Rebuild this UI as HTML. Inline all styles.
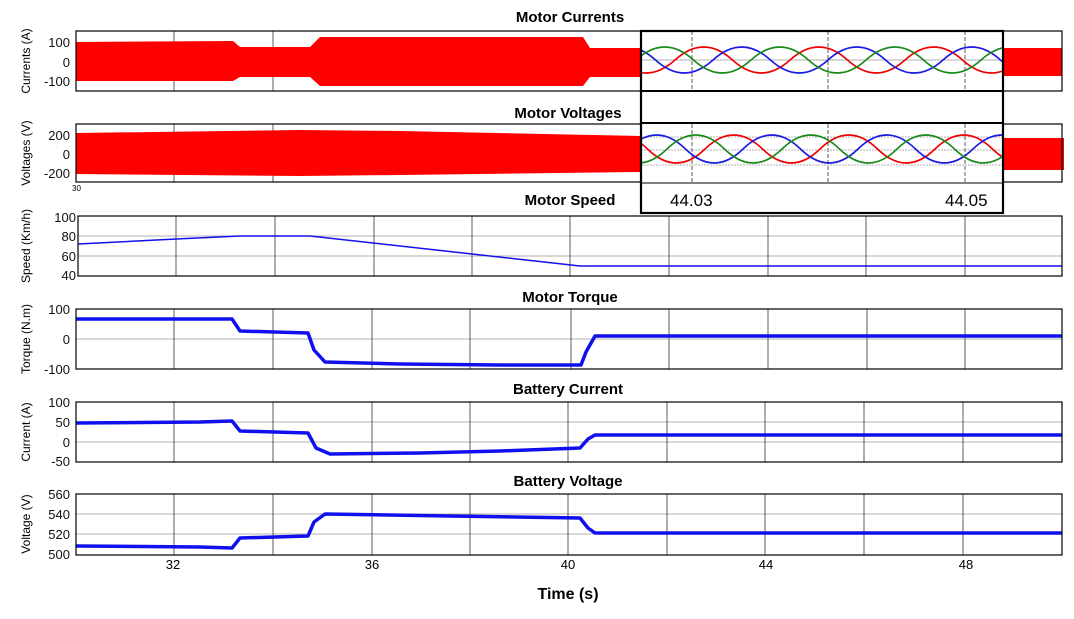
<!DOCTYPE html>
<html><head><meta charset="utf-8"><style>
body{margin:0;background:#fff;}
svg{display:block;font-family:"Liberation Sans",Arial,sans-serif;}
.t{font-weight:bold;font-size:15px;text-anchor:middle;}
.yl{font-size:12px;text-anchor:middle;}
.tk{font-size:13px;text-anchor:end;fill:#111;}
.xt{font-size:13px;text-anchor:middle;}
.vg{stroke:#333;stroke-width:0.8;}
.hg{stroke:#999;stroke-width:0.8;}
.box{fill:none;stroke:#000;stroke-width:1.2;}
.bl{fill:none;stroke:#1010ee;stroke-width:3.5;stroke-linejoin:round;}
</style></head><body>
<svg width="1074" height="619" viewBox="0 0 1074 619">
<defs>
<clipPath id="c1"><rect x="641" y="32" width="362" height="58"/></clipPath>
<clipPath id="c2"><rect x="641" y="124" width="362" height="58"/></clipPath>
</defs>

<!-- titles -->
<text class="t" x="570" y="22">Motor Currents</text>
<text class="t" x="568" y="118">Motor Voltages</text>
<text class="t" x="570" y="205">Motor Speed</text>
<text class="t" x="570" y="302">Motor Torque</text>
<text class="t" x="568" y="394">Battery Current</text>
<text class="t" x="568" y="486">Battery Voltage</text>

<!-- Panel 1 currents -->
<g>
<line class="vg" x1="174" y1="31" x2="174" y2="91"/><line class="vg" x1="273" y1="31" x2="273" y2="91"/>
<polygon fill="#ff0000" points="76,42 233,41 240,47 310,47 320,37 583,37 590,48 641,48 641,77 590,77 583,86 320,86 310,77 240,77 233,81 76,81"/>
<polygon fill="#ff0000" points="1003,48 1062,48 1062,76 1003,76"/>
<rect class="box" x="76" y="31" width="986" height="60"/>
<text class="yl" transform="translate(30,61) rotate(-90)">Currents (A)</text>
<text class="tk" x="70" y="47">100</text><text class="tk" x="70" y="67">0</text><text class="tk" x="70" y="86">-100</text>
</g>

<!-- Panel 2 voltages -->
<g>
<line class="vg" x1="174" y1="124" x2="174" y2="182"/><line class="vg" x1="273" y1="124" x2="273" y2="182"/>
<polygon fill="#ff0000" points="76,133 300,130 400,131 641,136 641,172 400,175 300,176 76,174"/>
<polygon fill="#ff0000" points="1003,138 1064,138 1064,170 1003,170"/>
<rect class="box" x="76" y="124" width="986" height="58"/>
<text class="yl" transform="translate(30,153) rotate(-90)">Voltages (V)</text>
<text class="tk" x="70" y="140">200</text><text class="tk" x="70" y="159">0</text><text class="tk" x="70" y="178">-200</text>
<text x="72" y="191" style="font-size:8px">30</text>
</g>

<!-- Inset -->
<rect x="641" y="31" width="362" height="182" fill="#fff"/>
<g class="vg" stroke-dasharray="4,2">
<line x1="692" y1="31" x2="692" y2="91"/><line x1="828" y1="31" x2="828" y2="91"/><line x1="965" y1="31" x2="965" y2="91"/>
<line x1="692" y1="124" x2="692" y2="183"/><line x1="828" y1="124" x2="828" y2="183"/><line x1="965" y1="124" x2="965" y2="183"/>
</g>
<line class="hg" x1="641" y1="60" x2="1003" y2="60"/>
<line class="hg" x1="641" y1="137" x2="1003" y2="137" stroke-dasharray="2,1"/>
<line class="hg" x1="641" y1="150" x2="1003" y2="150" stroke-dasharray="2,1"/>
<line class="hg" x1="641" y1="165" x2="1003" y2="165" stroke-dasharray="2,1"/>
<g clip-path="url(#c1)" fill="none" stroke-width="1.6">
<path stroke="#e00" d="M560,60 q28.75,-26 57.5,0 t57.5,0 t57.5,0 t57.5,0 t57.5,0 t57.5,0 t57.5,0 t57.5,0 t57.5,0 t57.5,0"/>
<path stroke="#1a1ae0" d="M598,60 q28.75,-26 57.5,0 t57.5,0 t57.5,0 t57.5,0 t57.5,0 t57.5,0 t57.5,0 t57.5,0 t57.5,0 t57.5,0"/>
<path stroke="#1a8a1a" d="M636,60 q28.75,-26 57.5,0 t57.5,0 t57.5,0 t57.5,0 t57.5,0 t57.5,0 t57.5,0 t57.5,0 t57.5,0 t57.5,0"/>
</g>
<g clip-path="url(#c2)" fill="none" stroke-width="1.6">
<path stroke="#e00" d="M590,149 q28.75,-28 57.5,0 t57.5,0 t57.5,0 t57.5,0 t57.5,0 t57.5,0 t57.5,0 t57.5,0 t57.5,0 t57.5,0"/>
<path stroke="#1a1ae0" d="M628,149 q28.75,-28 57.5,0 t57.5,0 t57.5,0 t57.5,0 t57.5,0 t57.5,0 t57.5,0 t57.5,0 t57.5,0 t57.5,0"/>
<path stroke="#1a8a1a" d="M552,149 q28.75,-28 57.5,0 t57.5,0 t57.5,0 t57.5,0 t57.5,0 t57.5,0 t57.5,0 t57.5,0 t57.5,0 t57.5,0"/>
</g>
<rect x="641" y="31" width="362" height="182" fill="none" stroke="#000" stroke-width="2.2"/>
<line x1="641" y1="91" x2="1003" y2="91" stroke="#000" stroke-width="2"/>
<line x1="641" y1="123" x2="1003" y2="123" stroke="#000" stroke-width="2"/>
<line x1="641" y1="183" x2="1003" y2="183" stroke="#000" stroke-width="1"/>
<text x="670" y="206" style="font-size:17px;font-family:'Liberation Sans Narrow','Liberation Sans',sans-serif">44.03</text>
<text x="945" y="206" style="font-size:17px;font-family:'Liberation Sans Narrow','Liberation Sans',sans-serif">44.05</text>

<!-- Panel 3 speed -->
<g>
<line class="hg" x1="78" y1="236" x2="1062" y2="236"/><line class="hg" x1="78" y1="256" x2="1062" y2="256"/>
<g class="vg"><line x1="176" y1="216" x2="176" y2="276"/><line x1="275" y1="216" x2="275" y2="276"/><line x1="374" y1="216" x2="374" y2="276"/><line x1="472" y1="216" x2="472" y2="276"/><line x1="570" y1="216" x2="570" y2="276"/><line x1="669" y1="216" x2="669" y2="276"/><line x1="768" y1="216" x2="768" y2="276"/><line x1="866" y1="216" x2="866" y2="276"/><line x1="965" y1="216" x2="965" y2="276"/></g>
<polyline fill="none" stroke="#1010ee" stroke-width="1.5" points="78,244 176,239 240,236 310,236 580,266 1062,266"/>
<rect class="box" x="78" y="216" width="984" height="60"/>
<text class="yl" transform="translate(30,246) rotate(-90)">Speed (Km/h)</text>
<text class="tk" x="76" y="222">100</text><text class="tk" x="76" y="241">80</text><text class="tk" x="76" y="261">60</text><text class="tk" x="76" y="280">40</text>
</g>

<!-- Panel 4 torque -->
<g>
<line class="hg" x1="76" y1="339" x2="1062" y2="339"/>
<g class="vg"><line x1="174" y1="309" x2="174" y2="369"/><line x1="273" y1="309" x2="273" y2="369"/><line x1="372" y1="309" x2="372" y2="369"/><line x1="470" y1="309" x2="470" y2="369"/><line x1="571" y1="309" x2="571" y2="369"/><line x1="669" y1="309" x2="669" y2="369"/><line x1="768" y1="309" x2="768" y2="369"/><line x1="867" y1="309" x2="867" y2="369"/><line x1="965" y1="309" x2="965" y2="369"/></g>
<polyline class="bl" points="76,319 232,319 240,331 308,333 314,350 325,362 400,364 500,365 581,365 586,352 595,336 1062,336"/>
<rect class="box" x="76" y="309" width="986" height="60"/>
<text class="yl" transform="translate(30,339) rotate(-90)">Torque (N.m)</text>
<text class="tk" x="70" y="314">100</text><text class="tk" x="70" y="344">0</text><text class="tk" x="70" y="374">-100</text>
</g>

<!-- Panel 5 battery current -->
<g>
<line class="hg" x1="76" y1="422" x2="1062" y2="422"/><line class="hg" x1="76" y1="442" x2="1062" y2="442"/>
<g class="vg"><line x1="174" y1="402" x2="174" y2="462"/><line x1="273" y1="402" x2="273" y2="462"/><line x1="372" y1="402" x2="372" y2="462"/><line x1="470" y1="402" x2="470" y2="462"/><line x1="568" y1="402" x2="568" y2="462"/><line x1="667" y1="402" x2="667" y2="462"/><line x1="765" y1="402" x2="765" y2="462"/><line x1="864" y1="402" x2="864" y2="462"/><line x1="963" y1="402" x2="963" y2="462"/></g>
<polyline class="bl" points="76,423 200,422 232,421 240,431 308,433 316,448 330,454 420,453 500,451 580,448 588,439 595,435 1062,435"/>
<rect class="box" x="76" y="402" width="986" height="60"/>
<text class="yl" transform="translate(30,432) rotate(-90)">Current (A)</text>
<text class="tk" x="70" y="407">100</text><text class="tk" x="70" y="427">50</text><text class="tk" x="70" y="447">0</text><text class="tk" x="70" y="466">-50</text>
</g>

<!-- Panel 6 battery voltage -->
<g>
<line class="hg" x1="76" y1="514" x2="1062" y2="514"/><line class="hg" x1="76" y1="534" x2="1062" y2="534"/>
<g class="vg"><line x1="174" y1="494" x2="174" y2="555"/><line x1="273" y1="494" x2="273" y2="555"/><line x1="372" y1="494" x2="372" y2="555"/><line x1="470" y1="494" x2="470" y2="555"/><line x1="568" y1="494" x2="568" y2="555"/><line x1="667" y1="494" x2="667" y2="555"/><line x1="765" y1="494" x2="765" y2="555"/><line x1="864" y1="494" x2="864" y2="555"/><line x1="963" y1="494" x2="963" y2="555"/></g>
<polyline class="bl" points="76,546 200,547 232,548 240,538 308,536 314,522 325,514 450,516 580,518 588,528 595,533 1062,533"/>
<rect class="box" x="76" y="494" width="986" height="61"/>
<text class="yl" transform="translate(30,524) rotate(-90)">Voltage (V)</text>
<text class="tk" x="70" y="499">560</text><text class="tk" x="70" y="519">540</text><text class="tk" x="70" y="539">520</text><text class="tk" x="70" y="559">500</text>
</g>

<text class="xt" x="173" y="569">32</text>
<text class="xt" x="372" y="569">36</text>
<text class="xt" x="568" y="569">40</text>
<text class="xt" x="766" y="569">44</text>
<text class="xt" x="966" y="569">48</text>
<text class="t" x="568" y="599" style="font-size:16px">Time (s)</text>
</svg>
</body></html>
